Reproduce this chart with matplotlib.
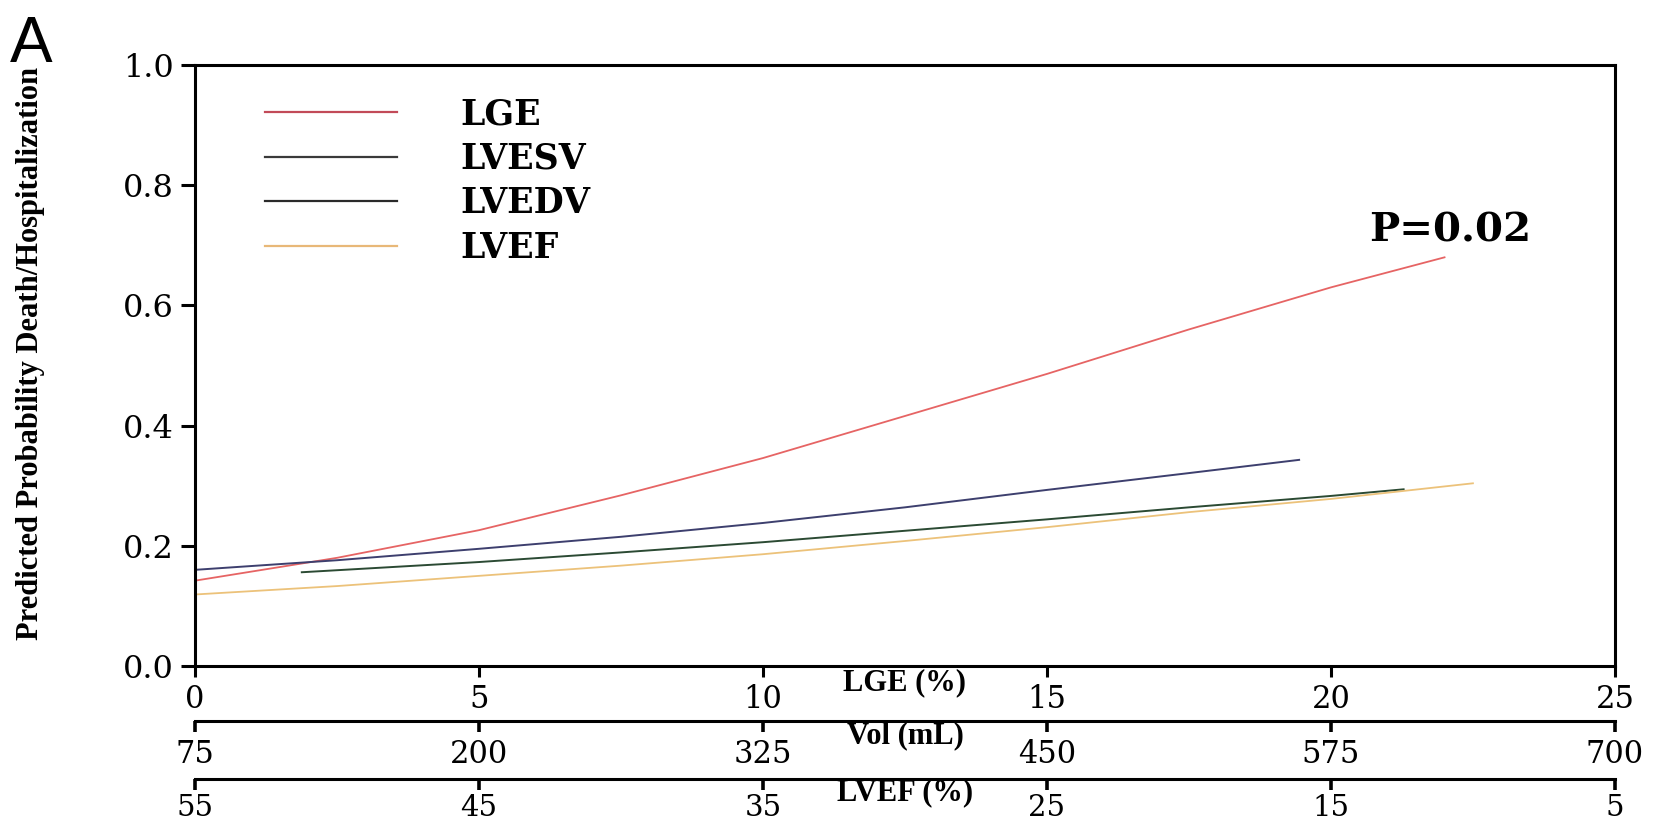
import matplotlib
matplotlib.use('Agg')
import matplotlib.pyplot as plt
import numpy as np

# values
lge_pct = [0, 2.5, 5, 7.5, 10, 12.5, 15, 17.5, 20, 22]
lge_prob = [0.142, 0.180, 0.226, 0.284, 0.346, 0.416, 0.486, 0.560, 0.630, 0.680]

lvesv_ml = [75, 137.5, 200, 262.5, 325, 387.5, 450, 512.5, 561]
lvesv_prob = [0.160, 0.176, 0.195, 0.215, 0.238, 0.264, 0.293, 0.321, 0.343]

lvedv_ml = [122, 200, 262.5, 325, 387.5, 450, 512.5, 575, 607]
lvedv_prob = [0.156, 0.173, 0.189, 0.206, 0.225, 0.244, 0.264, 0.283, 0.294]

lvef_pct = [55, 50, 45, 40, 35, 30, 25, 20, 15, 10]
lvef_prob = [0.119, 0.133, 0.150, 0.167, 0.186, 0.208, 0.231, 0.256, 0.278, 0.304]

lge_ticks = [0, 5, 10, 15, 20, 25]
vol_ticks = [75, 200, 325, 450, 575, 700]
lvef_ticks = [55, 45, 35, 25, 15, 5]
y_ticks = [0.0, 0.2, 0.4, 0.6, 0.8, 1.0]

series_names = ['LGE', 'LVESV', 'LVEDV', 'LVEF']
colors = ['#e66464', '#3d3f6e', '#2b4a33', '#ecc27a']
legend_colors = ['#c24a58', '#3a3a3a', '#2a2a2a', '#e8b878']


# all three bottom scales share one horizontal position
def vol_to_lge(v):
    return (np.asarray(v, dtype=float) - 75) / 25.0


def lge_to_vol(x):
    return 75 + 25.0 * np.asarray(x, dtype=float)


def lvef_to_lge(e):
    return (55 - np.asarray(e, dtype=float)) / 2.0


def lge_to_lvef(x):
    return 55 - 2.0 * np.asarray(x, dtype=float)


serif = 'DejaVu Serif'
tick_size = 22

fig = plt.figure(figsize=(16.57, 8.26), dpi=100)
ax = fig.add_axes([0.1177, 0.1937, 0.8569, 0.7276])

ax.plot(lge_pct, lge_prob, color=colors[0], lw=1.3)
ax.plot(vol_to_lge(lvesv_ml), lvesv_prob, color=colors[1], lw=1.4)
ax.plot(vol_to_lge(lvedv_ml), lvedv_prob, color=colors[2], lw=1.4)
ax.plot(lvef_to_lge(lvef_pct), lvef_prob, color=colors[3], lw=1.3)

ax.set_xlim(0, 25)
ax.set_ylim(0, 1)
ax.set_xticks(lge_ticks)
ax.set_yticks(y_ticks)
ax.set_xticklabels([str(t) for t in lge_ticks], family=serif, fontsize=tick_size)
ax.set_yticklabels([f'{t:.1f}' for t in y_ticks], family=serif, fontsize=23)
ax.tick_params(axis='x', direction='out', length=8, width=2.2, pad=5)
ax.tick_params(axis='y', direction='out', length=10, width=2.2, pad=5)
for sp in ax.spines.values():
    sp.set_linewidth(2.2)

ax.set_xlabel('LGE (%)', family='Liberation Serif', fontweight='bold', fontsize=22)
ax.xaxis.set_label_coords(0.5, -0.027)
ax.xaxis.label.set_va('center')

ax.set_ylabel('Predicted Probability Death/Hospitalization',
              family='Liberation Serif', fontweight='bold', fontsize=22)
ax.yaxis.set_label_coords(-0.116, 0.52)
ax.yaxis.label.set(va='center', ha='center')

# extra scales below the plot: (location, ticks, label, label y, tick size, pad)
sec_specs = [
    (-0.0915, (lge_to_vol, vol_to_lge), vol_ticks, 'Vol (mL)', -0.116, tick_size, 5),
    (-0.188, (lge_to_lvef, lvef_to_lge), lvef_ticks, 'LVEF (%)', -0.211, 21, 3),
]
for loc, funcs, ticks, label, label_y, size, pad in sec_specs:
    sec = ax.secondary_xaxis(loc, functions=funcs)
    sec.set_xticks(ticks)
    sec.set_xticklabels([str(t) for t in ticks], family=serif, fontsize=size)
    sec.tick_params(axis='x', direction='out', length=8, width=2.6, pad=pad)
    sec.spines['bottom'].set_linewidth(2.2)
    sec.set_xlabel(label, family='Liberation Serif', fontweight='bold', fontsize=22)
    sec.xaxis.set_label_coords(0.5, label_y, transform=ax.transAxes)
    sec.xaxis.label.set_va('center')

# legend built from proxy lines
handles = [plt.Line2D([], [], color=c, lw=1.6) for c in legend_colors]
leg = ax.legend(handles, series_names, loc='upper left', bbox_to_anchor=(0.027, 0.998),
                frameon=False, handlelength=3.8, handletextpad=1.85, labelspacing=0.3,
                prop={'family': serif, 'weight': 'bold', 'size': 25})

ax.text(20.67, 0.707, 'P=0.02', family=serif, fontweight='bold', fontsize=29,
        ha='left', va='baseline')

fig.text(0.006, 0.925, 'A', family='Liberation Sans', fontsize=46, va='baseline', ha='left')

fig.savefig('out.png', dpi=100)
